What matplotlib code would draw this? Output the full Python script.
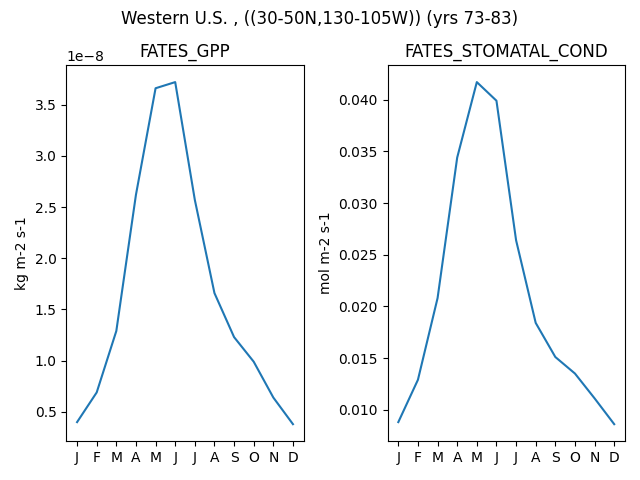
import numpy as np
import matplotlib
matplotlib.use("Agg")
import matplotlib.pyplot as plt

months = ['J', 'F', 'M', 'A', 'M', 'J', 'J', 'A', 'S', 'O', 'N', 'D']
gpp = np.array([0.40, 0.69, 1.29, 2.62, 3.66, 3.72, 2.57, 1.66, 1.23, 0.99, 0.64, 0.38]) * 1e-8
stomatal_cond = [0.0088, 0.0129, 0.0208, 0.0344, 0.0417, 0.0399, 0.0264, 0.0184, 0.0151, 0.0135, 0.0111, 0.0086]

fig, axes = plt.subplots(1, 2, figsize=(6.4, 4.8), dpi=100)
fig.suptitle('Western U.S. , ((30-50N,130-105W)) (yrs 73-83)')

x = np.arange(len(months))
for ax, data, name, units in zip(axes, [gpp, stomatal_cond],
                                 ['FATES_GPP', 'FATES_STOMATAL_COND'],
                                 ['kg m-2 s-1', 'mol m-2 s-1']):
    ax.plot(x, data)
    ax.set_title(name)
    ax.set_ylabel(units)
    ax.set_xticks(x)
    ax.set_xticklabels(months)

fig.tight_layout()
fig.subplots_adjust(top=1 - 65 / 480)
fig.savefig('out.png')
